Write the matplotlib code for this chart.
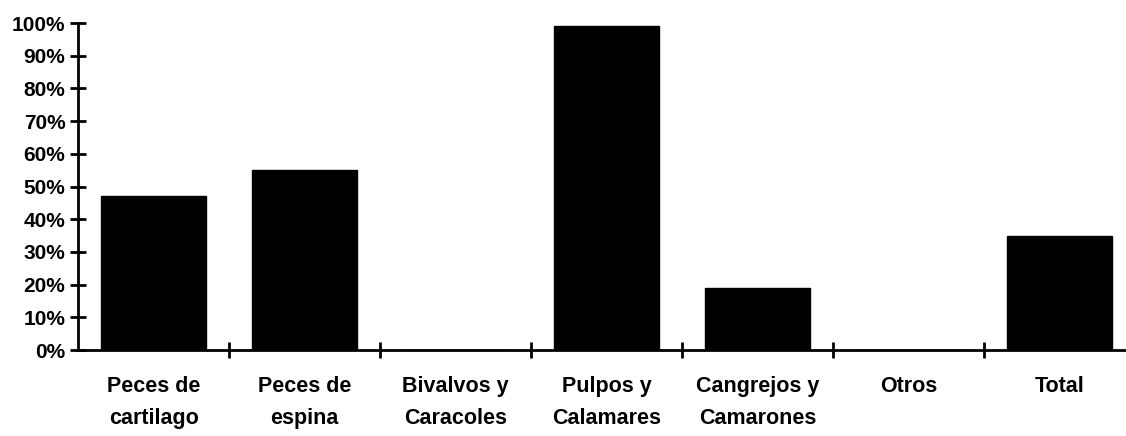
import matplotlib
matplotlib.use("Agg")
import matplotlib.pyplot as plt
from matplotlib.ticker import FixedLocator, PercentFormatter

categories = ["Peces de\ncartilago", "Peces de\nespina", "Bivalvos y\nCaracoles",
              "Pulpos y\nCalamares", "Cangrejos y\nCamarones", "Otros", "Total"]
values = [47, 55, 0, 99, 19, 0, 35]
y_ticks = [0, 10, 20, 30, 40, 50, 60, 70, 80, 90, 100]

plt.rcParams['font.family'] = ['Liberation Sans', 'DejaVu Sans']

W, H = 1126, 436
fig = plt.figure(figsize=(W / 100, H / 100), dpi=100)
left, right = 78 / W, 1.0
bottom, top = 1 - 350 / H, 1 - 23 / H
ax = fig.add_axes([left, bottom, right - left, top - bottom])

x = list(range(len(categories)))
ax.bar(x, values, width=0.7, color='black', edgecolor='black')

cat_w = 151
ax.set_xlim(-0.5, -0.5 + (W - 78) / cat_w)
ax.set_ylim(0, 100)

for s in ['top', 'right']:
    ax.spines[s].set_visible(False)
ax.spines['left'].set_linewidth(2)
ax.spines['bottom'].set_linewidth(2)

ax.set_yticks(y_ticks)
ax.yaxis.set_major_formatter(PercentFormatter(decimals=0))
ax.tick_params(axis='y', direction='inout', length=12, width=2, labelsize=15, pad=3)
for lab in ax.get_yticklabels():
    lab.set_fontweight('bold')

ax.set_xticks(x)
ax.set_xticklabels(categories, fontsize=15.5, fontweight='bold', linespacing=1.65)
ax.tick_params(axis='x', which='major', length=0, pad=19)
ax.xaxis.set_minor_locator(FixedLocator([i + 0.5 for i in range(len(categories) - 1)]))
ax.tick_params(axis='x', which='minor', direction='inout', length=12, width=2)

fig.savefig("out.png", dpi=100)
